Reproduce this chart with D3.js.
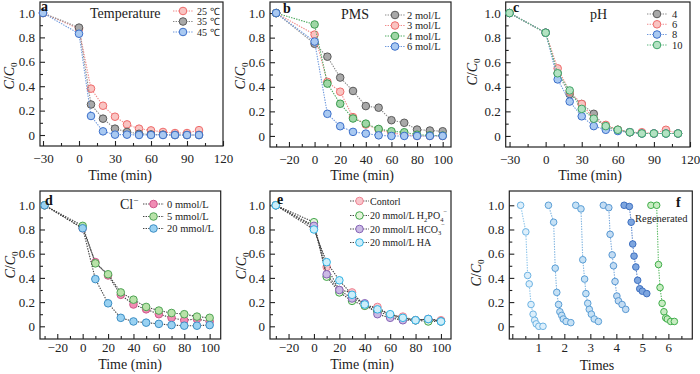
<!DOCTYPE html>
<html>
<head>
<meta charset="utf-8">
<script src="https://cdn.jsdelivr.net/npm/d3@7"></script>
<style>
  html, body { margin: 0; padding: 0; background: #fff; }
  svg { display: block; font-family: "Liberation Serif", "Times New Roman", serif; }
</style>
</head>
<body>
<svg id="chart" width="700" height="374"></svg>
<script>
// ---- data ----
const timeAB = [-30, 0, 10, 20, 30, 40, 50, 60, 70, 80, 90, 100];
const timeC = [-30, 0, 10, 20, 30, 40, 50, 60, 70, 80, 90, 100, 110];

// a: temperature
const temp25 = [1.0, 0.87, 0.38, 0.24, 0.15, 0.087, 0.052, 0.038, 0.025, 0.016, 0.016, 0.04];
const temp35 = [1.0, 0.88, 0.25, 0.134, 0.052, 0.025, 0.01, 0.005, 0.003, 0, 0, 0];
const temp45 = [1.0, 0.83, 0.156, 0.03, 0.003, 0.003, 0, 0, 0, 0, 0, 0];

// b: PMS dose
const pms2 = [1.0, 0.75, 0.645, 0.475, 0.366, 0.243, 0.23, 0.128, 0.107, 0.052, 0.044, 0.038];
const pms3 = [1.0, 0.825, 0.44, 0.36, 0.153, 0.093, 0.052, 0.025, 0.01, 0, 0, 0];
const pms4 = [1.0, 0.907, 0.426, 0.262, 0.142, 0.10, 0.057, 0.038, 0.03, 0.01, 0.005, 0.003];
const pms6 = [1.0, 0.768, 0.18, 0.079, 0.033, 0.019, 0.005, 0, 0, 0, 0, 0];

// c: pH
const ph4 = [1.0, 0.84, 0.51, 0.34, 0.26, 0.18, 0.07, 0.05, 0.03, 0.02, 0.02, 0.02, 0.02];
const ph6 = [1.0, 0.84, 0.55, 0.36, 0.26, 0.14, 0.09, 0.05, 0.03, 0.03, 0.02, 0.05, 0.02];
const ph8 = [1.0, 0.84, 0.46, 0.28, 0.16, 0.08, 0.05, 0.04, 0.03, 0.02, 0.02, 0.02, 0.02];
const ph10 = [1.0, 0.84, 0.51, 0.37, 0.22, 0.14, 0.08, 0.05, 0.03, 0.02, 0.02, 0.02, 0.02];

// d: chloride
const cl0 = [1.0, 0.81, 0.53, 0.42, 0.26, 0.18, 0.14, 0.10, 0.07, 0.05, 0.06, 0.04];
const cl5 = [1.0, 0.83, 0.52, 0.43, 0.28, 0.22, 0.16, 0.13, 0.11, 0.10, 0.08, 0.07];
const cl20 = [1.0, 0.81, 0.39, 0.19, 0.07, 0.04, 0.03, 0.02, 0.01, 0.005, 0.005, 0.01];

// e: co-existing anions / HA
const ctrl = [1.0, 0.82, 0.49, 0.30, 0.28, 0.17, 0.16, 0.09, 0.08, 0.05, 0.06, 0.05];
const h2po4 = [1.0, 0.86, 0.41, 0.28, 0.21, 0.17, 0.12, 0.09, 0.06, 0.05, 0.04, 0.04];
const hco3 = [1.0, 0.83, 0.43, 0.30, 0.23, 0.19, 0.10, 0.07, 0.05, 0.05, 0.06, 0.04];
const ha = [1.0, 0.80, 0.53, 0.38, 0.26, 0.18, 0.14, 0.10, 0.07, 0.05, 0.06, 0.04];

// f: reuse cycles (x in "times" units)
const cycX1 = [0.32, 0.52, 0.59, 0.65, 0.72, 0.80, 0.86, 0.92, 1.02, 1.18];
const cycY1 = [1.0, 0.78, 0.42, 0.35, 0.18, 0.10, 0.05, 0.02, 0, 0];
const cycX2 = [1.39, 1.59, 1.65, 1.71, 1.78, 1.83, 1.90, 1.96, 2.07, 2.25];
const cycY2 = [1.0, 0.86, 0.48, 0.28, 0.18, 0.12, 0.09, 0.06, 0.04, 0.03];
const cycX3 = [2.44, 2.64, 2.71, 2.78, 2.83, 2.90, 2.96, 3.04, 3.15, 3.31];
const cycY3 = [1.0, 0.97, 0.55, 0.39, 0.27, 0.19, 0.14, 0.10, 0.06, 0.04];
const cycX4 = [3.50, 3.71, 3.76, 3.84, 3.89, 3.95, 4.02, 4.08, 4.22, 4.36];
const cycY4 = [1.0, 0.98, 0.76, 0.59, 0.50, 0.37, 0.25, 0.21, 0.18, 0.14];
const cycX5 = [4.30, 4.50, 4.57, 4.63, 4.68, 4.75, 4.82, 4.90, 5.00, 5.17];
const cycY5 = [1.0, 0.99, 0.86, 0.68, 0.58, 0.49, 0.38, 0.31, 0.29, 0.27];
const cycX6 = [5.33, 5.55, 5.62, 5.68, 5.76, 5.83, 5.90, 5.96, 6.09, 6.23];
const cycY6 = [1.0, 1.0, 0.51, 0.32, 0.19, 0.12, 0.07, 0.06, 0.04, 0.04];

const yMajor = [0, 0.2, 0.4, 0.6, 0.8, 1.0];
const yMinor = [0.1, 0.3, 0.5, 0.7, 0.9];

// ---- styles ----
const GRAY = { fill: '#a9a9a9', stroke: '#5a5a5a', line: '#8a8a8a' };
const RED = { fill: '#f9c4c2', stroke: '#ef6b6b', line: '#f08a8a' };
const BLUE = { fill: '#a9c9f1', stroke: '#3b6fca', line: '#6e98dc' };
const GREEN = { fill: '#9fd7a6', stroke: '#3a9a4e', line: '#4caa5e' };

const svg = d3.select('#chart');

function zip(xs, ys) { return xs.map((x, i) => [x, ys[i]]); }

function drawPanel(p) {
  const g = svg.append('g');
  const x = d3.scaleLinear().domain(p.xd).range([p.l, p.r]);
  const y = d3.scaleLinear().domain(p.yd).range([p.b, p.t]);

  const styleAxis = sel => {
    sel.attr('font-family', null).attr('font-size', 13);
    sel.select('.domain').remove();
    sel.selectAll('line').attr('stroke', '#222').attr('stroke-width', 1.1);
    sel.selectAll('text').attr('fill', '#222');
  };
  const fmtY = d => d === 0 ? '0' : d.toFixed(1);
  const fmtX = p.fmtX || (d => d < 0 ? '\u2212' + Math.abs(d) : String(d));

  g.append('g').attr('transform', `translate(${p.l},0)`)
    .call(d3.axisLeft(y).tickValues(yMajor).tickSize(-5).tickPadding(5).tickFormat(fmtY))
    .call(styleAxis);
  g.append('g').attr('transform', `translate(${p.l},0)`)
    .call(d3.axisLeft(y).tickValues(yMinor).tickSize(-3).tickFormat(''))
    .call(styleAxis);
  g.append('g').attr('transform', `translate(0,${p.b})`)
    .call(d3.axisBottom(x).tickValues(p.xMajor).tickSize(-5).tickPadding(p.xPad).tickFormat(fmtX))
    .call(styleAxis);
  if (p.xMinor) {
    g.append('g').attr('transform', `translate(0,${p.b})`)
      .call(d3.axisBottom(x).tickValues(p.xMinor).tickSize(-3).tickFormat(''))
      .call(styleAxis);
  }

  g.append('rect')
    .attr('x', p.l).attr('y', p.t)
    .attr('width', p.r - p.l).attr('height', p.b - p.t)
    .attr('fill', 'none').attr('stroke', '#222').attr('stroke-width', 1.2);

  const line = d3.line().x(d => x(d[0])).y(d => y(d[1]));
  p.series.forEach(s => {
    const pts = zip(s.x, s.y);
    g.append('path').datum(pts)
      .attr('d', line)
      .attr('fill', 'none')
      .attr('stroke', s.st.line)
      .attr('stroke-width', 1.1)
      .attr('stroke-dasharray', '1.4,1.2');
    g.selectAll(null).data(pts).join('circle')
      .attr('cx', d => x(d[0])).attr('cy', d => y(d[1]))
      .attr('r', p.r0 || 3.8)
      .attr('fill', s.st.fill)
      .attr('stroke', s.st.stroke)
      .attr('stroke-width', 1);
  });

  // axis titles
  const yt = g.append('text')
    .attr('transform', `translate(${p.ytx},${p.yty}) rotate(-90)`)
    .attr('text-anchor', 'middle').attr('dy', '0.35em')
    .attr('font-size', 14).attr('fill', '#222');
  yt.append('tspan').attr('font-style', 'italic').text('C');
  yt.append('tspan').text('/');
  yt.append('tspan').attr('font-style', 'italic').text('C');
  yt.append('tspan').attr('font-size', 9).attr('dy', 3).text('0');

  g.append('text')
    .attr('x', p.xtx).attr('y', p.xty)
    .attr('text-anchor', 'middle')
    .attr('font-size', 14).attr('fill', '#222')
    .text(p.xTitle || 'Time (min)');

  g.append('text')
    .attr('x', p.lx).attr('y', p.ly)
    .attr('font-size', 14).attr('font-weight', 'bold').attr('fill', '#111')
    .text(p.letter);

  if (p.title) {
    const tt = g.append('text').attr('x', p.title.x).attr('y', p.title.y)
      .attr('font-size', 14).attr('fill', '#222');
    p.title.parts.forEach(pt => {
      const ts = tt.append('tspan').text(pt.t);
      if (pt.sup) ts.attr('font-size', 9).attr('dy', -6);
    });
  }

  if (p.legend) {
    const L = p.legend;
    p.series.forEach((s, i) => {
      const cy = L.ys[i];
      g.append('line')
        .attr('x1', L.x0).attr('x2', L.x1).attr('y1', cy).attr('y2', cy)
        .attr('stroke', s.st.line).attr('stroke-width', 1.1)
        .attr('stroke-dasharray', '1.4,1.2');
      g.append('circle')
        .attr('cx', (L.x0 + L.x1) / 2).attr('cy', cy).attr('r', 3.8)
        .attr('fill', s.st.fill).attr('stroke', s.st.stroke).attr('stroke-width', 1);
      const t = g.append('text').attr('x', L.tx).attr('y', cy).attr('dy', '0.35em')
        .attr('font-size', L.fs || 10.5).attr('fill', '#222');
      s.label.forEach(pt => {
        const ts = t.append('tspan').text(pt.t);
        if (pt.sub) ts.attr('font-size', 6.5).attr('dy', 2.5);
        if (pt.sup) ts.attr('font-size', 6.5).attr('dy', pt.dy || -6);
        if (pt.back) ts.attr('dy', pt.back);
      });
    });
  }
  return { x, y, g };
}

const ticksA = { xMajor: [-30, 0, 30, 60, 90, 120], xMinor: [-15, 15, 45, 75, 105], xPad: 8 };
const ticksB = { xMajor: [-20, 0, 20, 40, 60, 80, 100], xMinor: [-30, -10, 10, 30, 50, 70, 90], xPad: 8 };
const lab = s => [{ t: s }];

// a
drawPanel(Object.assign({
  l: 40, r: 223, t: 2, b: 146, xd: [-32.5, 120], yd: [-0.09, 1.09],
  ytx: 9, yty: 76, xtx: 120, xty: 180, lx: 41, ly: 11, letter: 'a',
  title: { x: 90, y: 18, parts: [{ t: 'Temperature' }] },
  legend: { x0: 173, x1: 193, tx: 197, ys: [11, 21.5, 32], fs: 10 },
  series: [
    { x: timeAB, y: temp25, st: RED, label: lab('25 \u2103') },
    { x: timeAB, y: temp35, st: GRAY, label: lab('35 \u2103') },
    { x: timeAB, y: temp45, st: BLUE, label: lab('45 \u2103') }
  ]
}, ticksA));

// b
drawPanel(Object.assign({
  l: 270, r: 451, t: 2, b: 147, xd: [-34.8, 106.5], yd: [-0.09, 1.09],
  ytx: 240, yty: 76, xtx: 362, xty: 180, lx: 283, ly: 13, letter: 'b',
  title: { x: 341, y: 19, parts: [{ t: 'PMS' }] },
  legend: { x0: 385, x1: 405, tx: 407, ys: [15, 25.5, 36, 46.5] },
  series: [
    { x: timeAB, y: pms2, st: GRAY, label: lab('2 mol/L') },
    { x: timeAB, y: pms3, st: RED, label: lab('3 mol/L') },
    { x: timeAB, y: pms4, st: GREEN, label: lab('4 mol/L') },
    { x: timeAB, y: pms6, st: BLUE, label: lab('6 mol/L') }
  ]
}, ticksB));

// c
drawPanel(Object.assign({
  l: 505.7, r: 690, t: 2, b: 147, xd: [-33.2, 120], yd: [-0.09, 1.09],
  ytx: 472, yty: 72, xtx: 590, xty: 180, lx: 513, ly: 12, letter: 'c',
  title: { x: 590, y: 19, parts: [{ t: 'pH' }] },
  legend: { x0: 647, x1: 667, tx: 672, ys: [14, 24.3, 34.5, 45] },
  series: [
    { x: timeC, y: ph4, st: GRAY, label: lab('4') },
    { x: timeC, y: ph6, st: RED, label: lab('6') },
    { x: timeC, y: ph8, st: BLUE, label: lab('8') },
    { x: timeC, y: ph10, st: { fill: '#b3e2c2', stroke: '#3ea467', line: '#5cb67e' }, label: lab('10') }
  ]
}, ticksA));

// d
const DARK = '#444';
drawPanel(Object.assign({
  l: 40, r: 220.7, t: 191, b: 339, xd: [-33.6, 108.7], yd: [-0.105, 1.118],
  ytx: 10, yty: 265, xtx: 130, xty: 369, lx: 45, ly: 205, letter: 'd',
  title: { x: 120, y: 209, parts: [{ t: 'Cl' }, { t: '\u2212', sup: true }] },
  legend: { x0: 143, x1: 164, tx: 167, ys: [204, 216.5, 228.5] },
  series: [
    { x: timeAB, y: cl0, st: { fill: '#f08db4', stroke: '#d0568a', line: DARK }, label: lab('0 mmol/L') },
    { x: timeAB, y: cl5, st: { fill: '#b9e2a9', stroke: '#4fa455', line: DARK }, label: lab('5 mmol/L') },
    { x: timeAB, y: cl20, st: { fill: '#9ad2f2', stroke: '#3a8dc4', line: DARK }, label: lab('20 mmol/L') }
  ]
}, ticksB, { xPad: 4 }));

// e
drawPanel(Object.assign({
  l: 270, r: 451, t: 191, b: 339, xd: [-34.6, 107.9], yd: [-0.105, 1.118],
  ytx: 241, yty: 266, xtx: 362, xty: 369, lx: 277, ly: 204, letter: 'e',
  legend: { x0: 350, x1: 369, tx: 370, ys: [201, 215.5, 229, 242.5], fs: 10 },
  series: [
    { x: timeAB, y: ctrl, st: { fill: '#f9c6cc', stroke: '#ef8594', line: DARK }, label: lab('Contorl') },
    { x: timeAB, y: h2po4, st: { fill: '#e6f4dc', stroke: '#3fa548', line: DARK },
      label: [{ t: '20 mmol/L H' }, { t: '2', sub: true }, { t: 'PO', back: -2.5 }, { t: '4', sub: true }, { t: '\u2212', sup: true, dy: -8 }] },
    { x: timeAB, y: hco3, st: { fill: '#cbbbe4', stroke: '#8563b6', line: DARK },
      label: [{ t: '20 mmol/L HCO' }, { t: '3', sub: true }, { t: '\u2212', sup: true, dy: -8 }] },
    { x: timeAB, y: ha, st: { fill: '#cdeefa', stroke: '#2fb2e3', line: DARK }, label: lab('20 mmol/L HA') }
  ]
}, ticksB, { xPad: 4 }));

// f
const pf = drawPanel({
  l: 509.3, r: 692.3, t: 191, b: 339, xd: [-0.115, 6.92], yd: [-0.105, 1.118],
  xMajor: [0, 1, 2, 3, 4, 5, 6], xMinor: [0.5, 1.5, 2.5, 3.5, 4.5, 5.5, 6.5], xPad: 4,
  fmtX: d => d === 0 ? '' : String(d), r0: 3.3,
  ytx: 476, yty: 273, xtx: 597, xty: 370, xTitle: 'Times', lx: 676, ly: 207, letter: 'f',
  series: [
    { x: cycX1, y: cycY1, st: { fill: '#ddeffb', stroke: '#6db3e3', line: '#8cc4ea' } },
    { x: cycX2, y: cycY2, st: { fill: '#c6e1f5', stroke: '#5b9fd6', line: '#7fb4e0' } },
    { x: cycX3, y: cycY3, st: { fill: '#c6e1f5', stroke: '#5b9fd6', line: '#7fb4e0' } },
    { x: cycX4, y: cycY4, st: { fill: '#c3dcf3', stroke: '#5797d2', line: '#7aa9dc' } },
    { x: cycX5, y: cycY5, st: { fill: '#7ea6df', stroke: '#3d6fc0', line: '#5a86cc' } },
    { x: cycX6, y: cycY6, st: { fill: '#c8ecc2', stroke: '#3fae4a', line: '#5dbb66' } }
  ]
});
pf.g.append('text').attr('x', 635).attr('y', 222)
  .attr('font-size', 10.5).attr('fill', '#222').text('Regenerated');
</script>
</body>
</html>
